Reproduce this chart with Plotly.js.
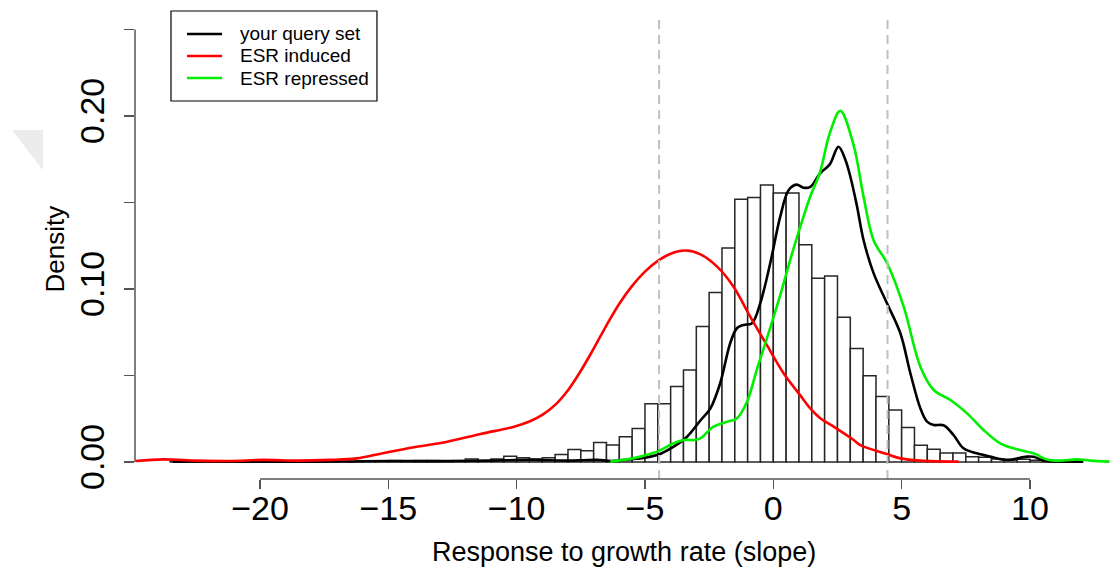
<!DOCTYPE html>
<html>
<head>
<meta charset="utf-8">
<script src="https://cdn.plot.ly/plotly-3.0.1.min.js"></script>
<style>html,body{margin:0;padding:0;background:#fff;}#chart{width:1113px;height:572px;}</style>
</head>
<body>
<div id="chart"></div>
<script>
// Histogram: left bin edges (width 0.5) and density
var binLeft = [-23.5,-23,-22.5,-22,-21.5,-21,-20.5,-20,-19.5,-19,-18.5,-18,-17.5,-17,-16.5,-16,-15.5,
  -15,-14.5,-14,-13.5,-13,-12.5,-12,-11.5,-11,-10.5,-10,-9.5,-9,-8.5,-8,-7.5,-7,-6.5,-6,-5.5,-5,-4.5,
  -4,-3.5,-3,-2.5,-2,-1.5,-1,-0.5,0,0.5,1,1.5,2,2.5,3,3.5,4,4.5,5,5.5,6,6.5,7,7.5,8,8.5,9,9.5,10,10.5,11,11.5];
var histDensity = [0.0002,0,0,0.0002,0,0,0,0.0002,0.0002,0,0,0.0002,0,0.0002,0.0002,0.0004,0.0006,
  0.0008,0.0003,0.0008,0.0008,0.0003,0.0008,0.0017,0.0008,0.0017,0.0033,0.0025,0.0017,0.0025,0.0044,0.0072,0.0065,0.0113,0.0098,0.0146,0.0194,0.0336,0.0336,
  0.0437,0.0532,0.0783,0.0979,0.1237,0.1519,0.1528,0.1601,0.1555,0.1555,0.1255,0.1062,0.1075,0.0836,0.0656,0.0499,0.0378,0.0301,0.0200,0.0097,0.0073,0.0052,0.0052,0.0031,0.0028,0.0017,0.0012,0.0016,0.0010,0.0008,0.0004,0.0002];

// Density curve: your query set
var queryX = [-23.4,-22,-20,-18,-16.5,-15,-13,-11,-9.5,-8,-7.4,-6.87,-6.28,-5.44,-5.18,-4.53,-3.88,-3.36,-2.84,-2.45,-2.07,-1.68,-1.42,-1.16,-0.83,-0.51,-0.12,0.27,0.6,0.9,1.18,1.44,1.83,2.2,2.54,2.8,3.0,3.25,3.52,3.91,4.43,4.95,5.34,5.73,5.99,6.25,6.63,7.02,7.41,7.93,8.45,9.1,9.88,10.14,10.53,11.0,12.08];
var queryY = [0.0002,0.0003,0.0002,0.0002,0.0003,0.0006,0.0005,0.0008,0.0012,0.0008,0.0010,0.0012,0.0006,0.0018,0.0021,0.0040,0.0089,0.0146,0.0240,0.0310,0.0455,0.0686,0.0773,0.0792,0.0802,0.0917,0.1149,0.1418,0.1572,0.1603,0.1585,0.1590,0.1670,0.1720,0.1822,0.1750,0.1650,0.1486,0.1280,0.1090,0.0917,0.0744,0.0513,0.0310,0.0233,0.0214,0.0212,0.0156,0.0079,0.0050,0.0031,0.0012,0.0031,0.0030,0.0008,0.0003,0.0002];

// Density curve: ESR induced
var inducedX = [-24.85,-23.76,-22.46,-21.17,-19.87,-18.57,-17.27,-16.23,-15.3,-14.0,-12.7,-11.4,-10.1,-9.5,-9.0,-8.5,-8.0,-7.5,-7.0,-6.5,-6.0,-5.5,-5.0,-4.5,-4.0,-3.4,-2.84,-2.19,-1.55,-0.9,-0.25,0.40,1.05,1.44,1.83,2.35,3.13,3.39,4.43,4.95,5.73,7.22];
var inducedY = [0.0006,0.0015,0.0008,0.0006,0.0012,0.0008,0.0012,0.0021,0.0048,0.0085,0.0117,0.0162,0.0204,0.0234,0.0272,0.0330,0.0415,0.0527,0.0655,0.0790,0.0915,0.1018,0.1100,0.1162,0.1204,0.1222,0.1200,0.1129,0.1013,0.0840,0.0675,0.0513,0.0385,0.0310,0.0253,0.0204,0.0127,0.0098,0.0046,0.0021,0.0008,0.0002];

// Density curve: ESR repressed
var repressedX = [-6.35,-5.7,-5.18,-4.53,-3.88,-3.49,-3.1,-2.84,-2.33,-1.8,-1.42,-1.02,-0.63,-0.25,0.27,0.79,1.18,1.44,1.83,2.2,2.61,3.13,3.52,3.91,4.43,5.08,5.73,6.25,6.9,7.55,8.19,8.84,9.49,10.14,10.66,11.18,11.83,12.35,13.1];
var repressedY = [0.0002,0.0015,0.0031,0.0060,0.0108,0.0127,0.0127,0.0137,0.0204,0.0233,0.0252,0.0350,0.0540,0.0715,0.0965,0.1235,0.1420,0.1534,0.1680,0.1900,0.2029,0.1830,0.1530,0.1280,0.1150,0.0898,0.0551,0.0416,0.0358,0.0281,0.0185,0.0108,0.0073,0.0050,0.0015,0.0008,0.0015,0.0008,0.0002];

var seriesNames = ['your query set','ESR induced','ESR repressed'];
var seriesColors = ['#000000','#ff0000','#00ee00'];
var cutoffs = [-4.45, 4.45];

var xTicks = [-20,-15,-10,-5,0,5,10];
var xTickText = ['\u221220','\u221215','\u221210','\u22125','0','5','10'];
var yTicks = [0,0.05,0.10,0.15,0.20,0.25];
var yTickText = ['0.00','','0.10','','0.20',''];
var xTitle = 'Response to growth rate (slope)';
var yTitle = 'Density';

var FONT = 'Liberation Sans, Arial, Helvetica, sans-serif';

var binCenters = binLeft.map(function(v){ return v + 0.25; });

var traces = [
  {type:'bar', x: binCenters, y: histDensity, width: 0.5, showlegend:false, hoverinfo:'skip',
   marker:{color:'#ffffff', line:{color:'#262626', width:1.5}}},
  {type:'scatter', mode:'lines', x: queryX, y: queryY, name: seriesNames[0], showlegend:false,
   line:{color:seriesColors[0], width:2.6, shape:'spline', smoothing:1}},
  {type:'scatter', mode:'lines', x: inducedX, y: inducedY, name: seriesNames[1], showlegend:false,
   line:{color:seriesColors[1], width:2.6, shape:'spline', smoothing:1}},
  {type:'scatter', mode:'lines', x: repressedX, y: repressedY, name: seriesNames[2], showlegend:false,
   line:{color:seriesColors[2], width:2.6, shape:'spline', smoothing:1}}
];

var shapes = [];
cutoffs.forEach(function(c){
  shapes.push({type:'line', xref:'x', yref:'paper', x0:c, x1:c, y0:0, y1:1,
    line:{color:'#c0c0c0', width:2, dash:'9px,6px'}});
});
// axis lines (R style: spanning tick range only)
shapes.push({type:'line', xref:'x', yref:'paper', x0:xTicks[0], x1:xTicks[xTicks.length-1], y0:0, y1:0,
  line:{color:'#555555', width:1.5}});
shapes.push({type:'line', xref:'paper', yref:'y', x0:0, x1:0, y0:yTicks[0], y1:yTicks[yTicks.length-1],
  line:{color:'#555555', width:1.5}});
// faint page-corner artifact
shapes.push({type:'path', xref:'paper', yref:'paper',
  path:'M -0.1258 0.757 L -0.0941 0.757 L -0.0941 0.670 Z',
  fillcolor:'#ececec', line:{width:0}});

// legend box drawn R-style
var annotations = [];
shapes.push({type:'rect', xref:'paper', yref:'paper', x0:0.0368, x1:0.2474, y0:0.8200, y1:1.0152,
  fillcolor:'#ffffff', line:{color:'#000000', width:1.2}});
var rowY = [0.9653, 0.9176, 0.8698];
seriesNames.forEach(function(n, i){
  shapes.push({type:'line', xref:'paper', yref:'paper', x0:0.0532, x1:0.0890, y0:rowY[i], y1:rowY[i],
    line:{color:seriesColors[i], width:2.6}});
  annotations.push({xref:'paper', yref:'paper', x:0.1053, y:rowY[i], xanchor:'left', yanchor:'middle',
    text:n, showarrow:false, font:{size:19, family:FONT, color:'#000000'}});
});
// axis titles
annotations.push({xref:'paper', yref:'paper', x:0.5, y:-0.1584, xanchor:'center', yanchor:'middle',
  text:xTitle, showarrow:false, font:{size:27, family:FONT, color:'#000000'}});
annotations.push({xref:'paper', yref:'paper', x:-0.0818, y:0.5, xanchor:'center', yanchor:'middle',
  text:yTitle, showarrow:false, textangle:-90, font:{size:26, family:FONT, color:'#000000'}});

var layout = {
  width:1113, height:572,
  margin:{l:135, r:0, t:18, b:93},
  paper_bgcolor:'#ffffff', plot_bgcolor:'#ffffff',
  font:{family:FONT, color:'#000000'},
  bargap:0, showlegend:false,
  xaxis:{range:[-24.87,13.235], showgrid:false, zeroline:false, showline:false,
    tickvals:xTicks, ticktext:xTickText, ticks:'outside', ticklen:9, tickwidth:1.5, tickcolor:'#555555',
    tickfont:{size:34, family:FONT}, ticklabelstandoff:-10},
  yaxis:{range:[-0.00983,0.2566], showgrid:false, zeroline:false, showline:false,
    tickvals:yTicks, ticktext:yTickText, ticks:'outside', ticklen:10, tickwidth:1.5, tickcolor:'#555555',
    tickangle:-90, tickfont:{size:34, family:FONT}, ticklabelstandoff:6},
  shapes:shapes,
  annotations:annotations
};

Plotly.newPlot('chart', traces, layout, {displayModeBar:false, staticPlot:true});
</script>
</body>
</html>
